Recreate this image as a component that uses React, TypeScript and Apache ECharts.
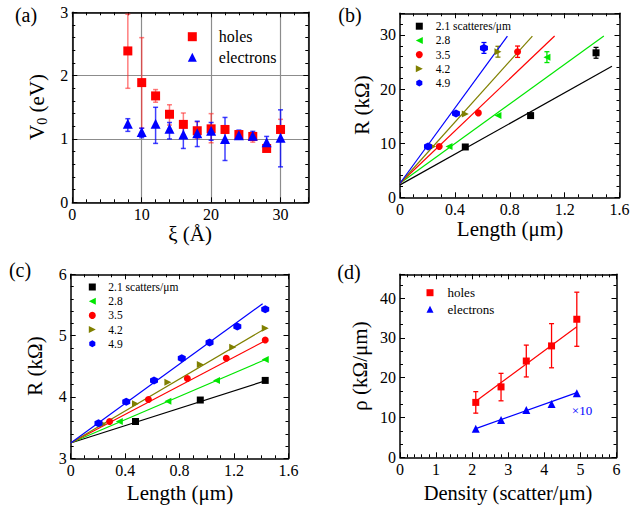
import React, { useEffect, useRef } from 'react';
import * as echarts from 'echarts';

const FONT = "'Liberation Serif', 'Times New Roman', serif";

// ---------- Panel (a) ----------
const xiA = [8, 10, 12, 14, 16, 18, 20, 22, 24, 26, 28, 30];
const holesV0 = [2.39, 1.89, 1.68, 1.39, 1.23, 1.13, 1.16, 1.15, 1.07, 1.04, 0.85, 1.15];
const holesLo = [1.80, 1.17, 1.58, 1.22, 1.06, 1.01, 0.94, 1.09, 1.02, 0.95, 0.81, 0.99];
const holesHi = [2.97, 2.60, 1.78, 1.54, 1.41, 1.27, 1.40, 1.21, 1.12, 1.09, 0.89, 1.31];
const elecV0 = [1.24, 1.11, 1.24, 1.16, 1.07, 1.09, 1.13, 1.00, 1.06, 1.05, 0.95, 1.02];
const elecLo = [1.12, 1.02, 0.93, 1.00, 0.85, 0.88, 0.98, 0.66, 1.00, 0.98, 0.88, 0.56];
const elecHi = [1.32, 1.17, 1.50, 1.26, 1.26, 1.28, 1.26, 1.34, 1.14, 1.12, 1.04, 1.46];

// ---------- Panels (b), (c) ----------
const densLabelsB = ['2.1 scatteres/μm', '2.8', '3.5', '4.2', '4.9'];
const densLabelsC = ['2.1 scatters/μm', '2.8 ', '3.5 ', '4.2 ', '4.9 '];
const lenB = [
  [0.476, 0.952, 1.429],
  [0.357, 0.714, 1.071],
  [0.286, 0.571, 0.857],
  [0.238, 0.476, 0.714],
  [0.204, 0.408, 0.612],
];
const resB = [
  [9.3, 15.1, 26.7],
  [9.4, 15.1, 25.9],
  [9.4, 15.6, 26.9],
  [9.4, 15.4, 26.9],
  [9.4, 15.5, 27.6],
];
const errB = [
  [0, 0, 1.0],
  [0, 0, 1.0],
  [0, 0, 1.05],
  [0, 0, 1.0],
  [0, 0, 1.0],
];
const fitBStart = [2.3, 2.6, 2.6, 2.6, 2.6];
const fitBEndX = [1.545, 1.486, 1.127, 0.965, 0.783];
const fitBEndY = [24.2, 29.8, 29.8, 29.8, 29.8];

const lenC = [
  [0.476, 0.952, 1.429],
  [0.357, 0.714, 1.071, 1.429],
  [0.286, 0.571, 0.857, 1.143, 1.429],
  [0.238, 0.476, 0.714, 0.952, 1.19, 1.429],
  [0.204, 0.408, 0.612, 0.816, 1.02, 1.224, 1.429],
];
const resC = [
  [3.6, 3.95, 4.27],
  [3.6, 3.93, 4.27, 4.61],
  [3.6, 3.96, 4.3, 4.63, 4.93],
  [3.56, 3.89, 4.24, 4.53, 4.81, 5.12],
  [3.57, 3.92, 4.27, 4.63, 4.89, 5.15, 5.43],
];
const fitCStart = [3.25, 3.25, 3.25, 3.25, 3.25];
const fitCEndX = [1.44, 1.44, 1.44, 1.44, 1.41];
const fitCEndY = [4.27, 4.62, 4.93, 5.13, 5.52];

// ---------- Panel (d) ----------
const densD = [2.1, 2.8, 3.5, 4.2, 4.9];
const rhoHoles = [13.8, 17.7, 24.2, 28.0, 34.7];
const rhoHolesLo = [11.1, 14.2, 20.2, 22.5, 27.9];
const rhoHolesHi = [16.5, 21.1, 28.2, 33.6, 41.5];
const rhoElec = [7.2, 9.4, 11.9, 13.4, 16.1];
const fitDX = [2.1, 4.9];
const fitDHolesY = [14.1, 32.8];
const fitDElecY = [7.2, 16.25];

const COLORS = ['#000000', '#00e600', '#ff0000', '#808000', '#0000ff'];
const HEX = 'path://M0,-1 L0.87,-0.5 L0.87,0.5 L0,1 L-0.87,0.5 L-0.87,-0.5 Z';
const TRI_LEFT = 'path://M0,1 L2,0 L2,2 Z';
const TRI_RIGHT = 'path://M2,1 L0,0 L0,2 Z';
const SYMBOLS = ['rect', TRI_LEFT, 'circle', TRI_RIGHT, HEX];

function isMult(v: number, m: number) {
  const r = v / m;
  return Math.abs(r - Math.round(r)) < 1e-6;
}

function makeAxes(grid: number, dim: 'x' | 'y', min: number, max: number, major: number, minor: number, dec: number, split: boolean) {
  const pos = dim === 'x' ? ['bottom', 'top'] : ['left', 'right'];
  const list: any[] = [];
  pos.forEach((p, i) => {
    [major, minor].forEach((iv, j) => {
      list.push({
        type: 'value',
        gridIndex: grid,
        position: p,
        min,
        max,
        interval: iv,
        axisLine: { show: j === 0, onZero: false, lineStyle: { color: '#000', width: 1.5 } },
        axisTick: { show: true, inside: true, length: j === 0 ? 5 : 3, lineStyle: { color: '#000', width: 1 } },
        axisLabel: {
          show: i === 0 && j === 0,
          margin: 4,
          fontFamily: FONT,
          fontSize: 16,
          color: '#000',
          formatter: (v: number) => (isMult(v, major) ? (Math.abs(v) < 1e-9 ? '0' : v.toFixed(dec)) : ''),
        },
        splitLine: { show: split && i === 0 && j === 0, lineStyle: { color: '#8c8c8c', width: 1.2 } },
        minorTick: { show: false },
      });
    });
  });
  return list;
}

function errRender(color: string, cap: number, width: number) {
  return (params: any, api: any) => {
    const x = api.value(0);
    const lo = api.value(1);
    const hi = api.value(2);
    const a = api.coord([x, hi]);
    const b = api.coord([x, lo]);
    const st = { stroke: color, lineWidth: width };
    return {
      type: 'group',
      children: [
        { type: 'line', shape: { x1: a[0], y1: a[1], x2: b[0], y2: b[1] }, style: st },
        { type: 'line', shape: { x1: a[0] - cap, y1: a[1], x2: a[0] + cap, y2: a[1] }, style: st },
        { type: 'line', shape: { x1: b[0] - cap, y1: b[1], x2: b[0] + cap, y2: b[1] }, style: st },
      ],
    };
  };
}

function txt(text: string, x: number, y: number, size: number, rot = 0, extra: any = {}) {
  return {
    type: 'text',
    x,
    y,
    rotation: rot,
    style: { text, fontFamily: FONT, fontSize: size, fill: '#000', align: 'center', verticalAlign: 'middle', ...extra },
  };
}

export default function App() {
  const ref = useRef<HTMLDivElement>(null);
  useEffect(() => {
    if (!ref.current) return;
    const chart = echarts.init(ref.current, undefined, { renderer: 'svg' });

    const grids = [
      { left: 72.3, top: 12.3, width: 236, height: 190 },
      { left: 400, top: 13.3, width: 219.5, height: 184 },
      { left: 70.7, top: 274.3, width: 217.8, height: 184 },
      { left: 400, top: 274.3, width: 216.5, height: 183 },
    ].map((g) => ({ ...g, outerBoundsMode: 'none', containLabel: false }));

    const xAxis = [
      ...makeAxes(0, 'x', 0, 34, 10, 2, 0, true),
      ...makeAxes(1, 'x', 0, 1.6, 0.4, 0.1, 1, false),
      ...makeAxes(2, 'x', 0, 1.6, 0.4, 0.1, 1, false),
      ...makeAxes(3, 'x', 0, 6, 1, 0.2, 0, false),
    ];
    const yAxis = [
      ...makeAxes(0, 'y', 0, 3, 1, 0.2, 0, true),
      ...makeAxes(1, 'y', 0, 34, 10, 2, 0, false),
      ...makeAxes(2, 'y', 3, 6, 1, 0.2, 0, false),
      ...makeAxes(3, 'y', 0, 46, 10, 10 / 3, 0, false),
    ];
    const ax = (g: number) => ({ xAxisIndex: g * 4, yAxisIndex: g * 4 });

    const series: any[] = [];
    // (a)
    series.push({
      type: 'custom', ...ax(0), z: 2, silent: true,
      renderItem: errRender('rgba(255,40,40,0.6)', 2.5, 1.5),
      encode: { x: 0, y: [1, 2] },
      data: xiA.map((x, i) => [x, holesLo[i], holesHi[i]]),
    });
    series.push({
      type: 'custom', ...ax(0), z: 2, silent: true,
      renderItem: errRender('rgba(0,0,255,0.75)', 2.5, 1.5),
      encode: { x: 0, y: [1, 2] },
      data: xiA.map((x, i) => [x, elecLo[i], elecHi[i]]),
    });
    series.push({
      type: 'scatter', name: 'holes', ...ax(0), z: 3, symbol: 'rect', symbolSize: 9,
      itemStyle: { color: '#ff0000', opacity: 1 },
      data: xiA.map((x, i) => [x, holesV0[i]]),
    });
    series.push({
      type: 'scatter', name: 'electrons', ...ax(0), z: 3, symbol: 'triangle', symbolSize: 10,
      itemStyle: { color: '#0000ff', opacity: 1 },
      data: xiA.map((x, i) => [x, elecV0[i]]),
    });

    // (b)
    for (let k = 0; k < 5; k++) {
      series.push({
        type: 'line', ...ax(1), z: 2, symbol: 'none', silent: true,
        lineStyle: { color: COLORS[k], width: 1.2 },
        data: [[0, fitBStart[k]], [fitBEndX[k], fitBEndY[k]]],
      });
      series.push({
        type: 'custom', ...ax(1), z: 2, silent: true,
        renderItem: errRender(COLORS[k], 2.5, 1.3),
        encode: { x: 0, y: [1, 2] },
        data: lenB[k].map((x, i) => [x, resB[k][i] - errB[k][i], resB[k][i] + errB[k][i]]).filter((d, i) => errB[k][i] > 0),
      });
      series.push({
        type: 'scatter', name: densLabelsB[k], ...ax(1), z: 3, symbol: SYMBOLS[k],
        symbolSize: k === 4 ? 8 : 7,
        itemStyle: { color: COLORS[k], opacity: 1 },
        data: lenB[k].map((x, i) => [x, resB[k][i]]),
      });
    }

    // (c)
    for (let k = 0; k < 5; k++) {
      series.push({
        type: 'line', ...ax(2), z: 2, symbol: 'none', silent: true,
        lineStyle: { color: COLORS[k], width: 1.2 },
        data: [[0, fitCStart[k]], [fitCEndX[k], fitCEndY[k]]],
      });
      series.push({
        type: 'scatter', name: densLabelsC[k], ...ax(2), z: 3, symbol: SYMBOLS[k],
        symbolSize: k === 4 ? 8 : 7,
        itemStyle: { color: COLORS[k], opacity: 1 },
        data: lenC[k].map((x, i) => [x, resC[k][i]]),
      });
    }

    // (d)
    series.push({
      type: 'line', ...ax(3), z: 2, symbol: 'none', silent: true,
      lineStyle: { color: '#ff0000', width: 1.2 },
      data: fitDX.map((x, i) => [x, fitDHolesY[i]]),
    });
    series.push({
      type: 'line', ...ax(3), z: 2, symbol: 'none', silent: true,
      lineStyle: { color: '#0000ff', width: 1.2 },
      data: fitDX.map((x, i) => [x, fitDElecY[i]]),
    });
    series.push({
      type: 'custom', ...ax(3), z: 2, silent: true,
      renderItem: errRender('#ff0000', 2.5, 1.3),
      encode: { x: 0, y: [1, 2] },
      data: densD.map((x, i) => [x, rhoHolesLo[i], rhoHolesHi[i]]),
    });
    series.push({
      type: 'scatter', name: 'holes ', ...ax(3), z: 3, symbol: 'rect', symbolSize: 7,
      itemStyle: { color: '#ff0000', opacity: 1 },
      data: densD.map((x, i) => [x, rhoHoles[i]]),
    });
    series.push({
      type: 'scatter', name: 'electrons ', ...ax(3), z: 3, symbol: 'triangle', symbolSize: 8,
      itemStyle: { color: '#0000ff', opacity: 1 },
      data: densD.map((x, i) => [x, rhoElec[i]]),
    });

    const legendBase = {
      orient: 'vertical',
      selectedMode: false,
      inactiveColor: '#000',
      padding: 0,
    };
    const legend = [
      {
        ...legendBase, data: ['holes', 'electrons'], left: 187.8, top: 28.7,
        itemWidth: 9, itemHeight: 9, itemGap: 4.6,
        textStyle: { fontFamily: FONT, fontSize: 16, color: '#000', padding: [0, 0, 0, 17] },
      },
      {
        ...legendBase, data: densLabelsB, left: 415.8, top: 20.2,
        itemWidth: 7, itemHeight: 7, itemGap: 2.2,
        textStyle: { fontFamily: FONT, fontSize: 11.5, color: '#000', padding: [0, 0, 0, 8] },
      },
      {
        ...legendBase, data: densLabelsC, left: 88.8, top: 281,
        itemWidth: 7, itemHeight: 7, itemGap: 2.2,
        textStyle: { fontFamily: FONT, fontSize: 11.5, color: '#000', padding: [0, 0, 0, 7.5] },
      },
      {
        ...legendBase, data: ['holes ', 'electrons '], left: 426.5, top: 286.2,
        itemWidth: 7, itemHeight: 7, itemGap: 3.6,
        textStyle: { fontFamily: FONT, fontSize: 13, color: '#000', padding: [0, 0, 0, 9] },
      },
    ];

    const graphic = [
      txt('(a)', 26, 15, 20),
      txt('(b)', 350, 15, 20),
      txt('(c)', 20, 270, 20),
      txt('(d)', 349, 272, 20),
      txt('{v|V}{s|0}{v| (eV)}', 37, 107, 21, Math.PI / 2, {
        rich: {
          v: { fontFamily: FONT, fontSize: 21, fill: '#000' },
          s: { fontFamily: FONT, fontSize: 14, fill: '#000', padding: [10, 0, 0, 0] },
        },
      }),
      txt('ξ (Å)', 190, 234, 21),
      txt('R (kΩ)', 362, 105, 21, Math.PI / 2),
      txt('Length (μm)', 510, 229, 21),
      txt('R (kΩ)', 35, 366, 21, Math.PI / 2),
      txt('Length (μm)', 180, 493, 21),
      txt('ρ (kΩ/μm)', 360, 366, 21, Math.PI / 2),
      txt('Density (scatter/μm)', 508, 493, 20.5),
      txt('×10', 582, 410, 13, 0, { fill: '#0000ff' }),
    ];

    chart.setOption({
      animation: false,
      backgroundColor: '#ffffff',
      grid: grids,
      xAxis,
      yAxis,
      series,
      legend,
      graphic,
    });
    return () => chart.dispose();
  }, []);
  return <div ref={ref} style={{ position: 'fixed', left: 0, top: 0, width: 639, height: 506 }} />;
}
